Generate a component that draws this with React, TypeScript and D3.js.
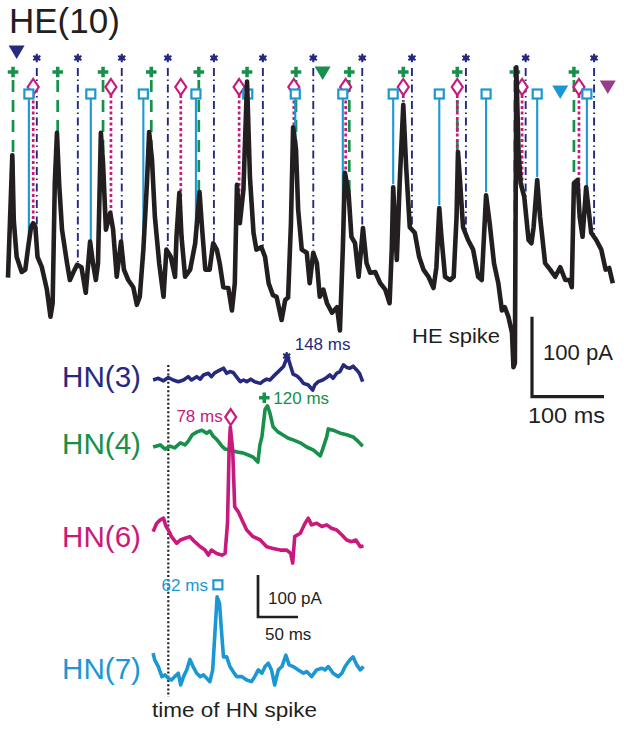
import { useEffect, useRef } from "react";
import * as d3 from "d3";

// HE(10) synaptic current: [time ms, current pA]
const heTrace: [number, number][] = [
  [0, 28], [6, 181], [8, 100], [12, 54], [19, 35], [24, 38], [28, 66], [32, 91], [35, 96], [38, 91],
  [41, 54], [47, 41], [54, 13], [59, -21], [62, -4], [65, 146], [68, 209], [71, 146], [75, 88], [82, 46],
  [86, 25], [91, 35], [96, 44], [102, 41], [108, 9], [114, 73], [118, 46], [122, 25], [125, 46], [129, 209],
  [132, 171], [136, 88], [142, 109], [146, 88], [151, 29], [157, 73], [161, 38], [167, 25], [174, 16], [179, -6],
  [183, 4], [188, 63], [193, 146], [196, 210], [200, 175], [204, 104], [210, 46], [216, 4], [220, 63], [226, 54],
  [232, 29], [234, 79], [238, 134], [241, 79], [246, 29], [253, 38], [260, 71], [266, 135], [269, 96], [274, 38],
  [280, 38], [285, 71], [290, 63], [294, 46], [299, 16], [306, 15], [311, -13], [315, 21], [318, 144], [322, 96],
  [327, 138], [332, 273], [336, 154], [341, 84], [345, 63], [352, 66], [357, 54], [362, 21], [368, 6], [373, 4],
  [380, -25], [385, 0], [389, 3], [393, 96], [396, 216], [400, 188], [403, 113], [408, 63], [415, 59], [419, 21],
  [424, 59], [429, 46], [433, 4], [438, 13], [443, -4], [450, -16], [457, -9], [461, -38], [465, 63], [468, 159],
  [473, 134], [477, 79], [482, 71], [487, 29], [493, 90], [498, 46], [503, 34], [510, 35], [517, 21], [524, 13],
  [530, -4], [533, 63], [535, 141], [540, 50], [544, 146], [549, 244], [553, 166], [558, 91], [565, 84], [571, 54],
  [577, 38], [584, 29], [591, 15], [595, 41], [599, 115], [602, 79], [607, 29], [614, 25], [619, 29], [623, 104],
  [625, 185], [628, 146], [632, 91], [639, 75], [646, 63], [653, 29], [658, 25], [664, 131], [669, 96], [675, 46],
  [681, 21], [686, -13], [690, -9], [695, -21], [700, -41], [702, -84], [704, -79], [706, 291], [709, 188], [712, 146],
  [717, 129], [723, 75], [727, 71], [730, 91], [735, 150], [739, 104], [746, 46], [753, 38], [760, 29], [767, 41],
  [774, 25], [780, 25], [783, 16], [786, 146], [791, 150], [794, 104], [798, 79], [803, 141], [806, 116], [810, 84],
  [817, 75], [824, 63], [830, 38], [835, 40], [840, 21],
];

// HN spike times (ms) marked above the HE trace
const hn3Events = [40, 97, 158, 222, 286, 354, 424, 492, 561, 636, 719, 814];
const hn4Events = [7, 69, 132, 199, 265, 332, 400, 474, 549, 624, 704, 786];
const hn6Events = [35, 143, 240, 321, 397, 469, 549, 624, 714, 793];
const hn7Events = [29, 115, 188, 261, 333, 399, 465, 535, 599, 664, 735, 804];

const triangleTimes = [12, 437, 767, 833];
const triangleColors = ["#262a7f", "#16904a", "#1b97d3", "#9b3d8c"];

// spike-triggered averages, t = 0 at the HN spike: [time ms, current pA]
const hn3Avg: [number, number][] = [
  [-19, 0], [-12.5, 4], [-6, -2], [0, 6], [6, 0], [12.5, -4], [19, 0], [25, 8], [29, 0], [35.5, 8],
  [40, 2], [44, 12], [50, 16], [54, 8], [58, 17], [65, 24], [69, 28], [73, 16], [77, 20], [81, 18],
  [85.5, 7], [90, -4], [94, 0], [98, -4], [103, 2], [108, -4], [115, -8], [119, -2], [123, 2], [127, 0],
  [131, 8], [137.5, 20], [144, 32], [149, 57], [153, 32], [156, 14], [160.5, 10], [165, 2], [169, -8], [175, -12],
  [180.5, -24], [183, -12], [187.5, -4], [193, 0], [198, 6], [202, 12], [206, 4], [210.5, 16], [214.5, 20], [219, 36],
  [223, 30], [227, 28], [231, 33], [235.5, 24], [239, 16], [243, -4],
];
const hn4Avg: [number, number][] = [
  [-19, 0], [-10, 5], [-4, -5], [2, 2], [8, -2], [15, 10], [21, 5], [25, 14], [30, 29], [36, 36],
  [42, 40], [48, 33], [52, 38], [56, 26], [61, 17], [67, 2], [71, -5], [77, -7], [86, -12], [93, -14],
  [100, -19], [106, -24], [112, -36], [114.5, 5], [117, 24], [121, 90], [124, 98], [127, 81], [131, 48], [137, 36],
  [143, 29], [150, 21], [156, 17], [165, 10], [173, 0], [181, -7], [190, -21], [193, -5], [198, 24], [200, 43],
  [206, 40], [215, 33], [223, 29], [231, 24], [237, 14], [243, 2],
];
const hn6Avg: [number, number][] = [
  [-19, 20], [-14.5, 40], [-10, 48], [-6, 52], [-3, 33], [0, 24], [4, 8], [10.5, -8], [15, 0], [21, 4],
  [27, 8], [33, -4], [40, -16], [46, -24], [50, -36], [54, -24], [60.5, -32], [67, -36], [71, -32], [74, 40],
  [76, 214], [77.5, 269], [80.5, 214], [83, 79], [87.5, 67], [92, 48], [98, 24], [106, 8], [115, 0], [123, -16],
  [131, -20], [140, -24], [148, -24], [153, -32], [155.5, -55], [158, 8], [165, 16], [171, 40], [175, 52], [179, 36],
  [185.5, 40], [192, 32], [198, 36], [204, 28], [210.5, 24], [217, 12], [223, 0], [229, -4], [234.5, 0], [240, -16],
  [244, -14],
];
const hn7Avg: [number, number][] = [
  [-19, 45], [-17, 29], [-12.5, 13], [-8, -11], [-4, -7], [0, -15], [4, -19], [8, -11], [12.5, -3], [15.5, -31],
  [19, -11], [23, 5], [27, 30], [31, 13], [35.5, -3], [40, -11], [44, -7], [48, -15], [52, -23], [55.5, 5],
  [58, 84], [61, 179], [64, 164], [67, 84], [69, 36], [73, 36], [77, 13], [81, 1], [85.5, -11], [92, -11],
  [98, -19], [104, -23], [108, -11], [112.5, 5], [117, -3], [121, 13], [125, 21], [129, 5], [133, -31], [137.5, 5],
  [142, 13], [147, 40], [151, 17], [156, 13], [162.5, 5], [169, -3], [173, 1], [179, -11], [185.5, 5], [192, 9],
  [196, 5], [200, 13], [206, -3], [212.5, -11], [217, -3], [221, 13], [227, 29], [231, 36], [235.5, 17], [240, 5],
  [244, 13],
];

const hnNames = ["HN(3)", "HN(4)", "HN(6)", "HN(7)"];
const hnLags = [148, 120, 78, 62];

const NAVY = "#262a7f";
const GREEN = "#16904a";
const MAGENTA = "#c8197d";
const CYAN = "#1b97d3";
const INK = "#231f20";
const FONT = "'Liberation Sans', Arial, Helvetica, sans-serif";

function drawMarker(g: any, kind: string, x: number, y: number, color: string) {
  if (kind === "asterisk") {
    g.append("path")
      .attr("transform", `translate(${x},${y})`)
      .attr("d", d3.symbol(d3.symbolAsterisk, 48)())
      .attr("stroke", color)
      .attr("stroke-width", 2)
      .attr("fill", "none");
    g.append("circle").attr("cx", x).attr("cy", y).attr("r", 2.8).attr("fill", color);
  } else if (kind === "plus") {
    g.append("path")
      .attr("transform", `translate(${x},${y})`)
      .attr("d", d3.symbol(d3.symbolCross, 62)())
      .attr("fill", color);
  } else if (kind === "diamond") {
    g.append("path")
      .attr("d", `M${x},${y - 8}L${x + 5.5},${y}L${x},${y + 8}L${x - 5.5},${y}Z`)
      .attr("fill", "#fff")
      .attr("stroke", color)
      .attr("stroke-width", 2.2);
  } else {
    g.append("rect")
      .attr("x", x - 4.5)
      .attr("y", y - 4.5)
      .attr("width", 9)
      .attr("height", 9)
      .attr("fill", "#fff")
      .attr("stroke", color)
      .attr("stroke-width", 2.2);
  }
}

export default function App() {
  const ref = useRef<SVGSVGElement>(null);

  useEffect(() => {
    if (!ref.current) return;
    const svg = d3.select(ref.current);
    svg.selectAll("*").remove();

    // top trace scales: 0.72 px per ms, 0.8 px per pA
    const x = d3.scaleLinear().domain([0, 840]).range([8, 612.8]);
    const y = d3.scaleLinear().domain([-100, 300]).range([380, 60]);

    const bis = d3.bisector((d: [number, number]) => d[0]).left;
    const valueAt = (t: number) => {
      const i = bis(heTrace, t);
      if (i <= 0) return heTrace[0][1];
      if (i >= heTrace.length) return heTrace[heTrace.length - 1][1];
      const [t0, v0] = heTrace[i - 1];
      const [t1, v1] = heTrace[i];
      return v0 + ((v1 - v0) * (t - t0)) / (t1 - t0);
    };

    svg
      .append("text")
      .attr("x", 9)
      .attr("y", 33)
      .attr("font-family", FONT)
      .attr("font-size", 35)
      .attr("fill", INK)
      .text("HE(10)");

    const rows = [
      { times: hn3Events, color: NAVY, dash: "8,3.5,1.5,3.5", width: 1.9, top: 68, my: 58, kind: "asterisk" },
      { times: hn4Events, color: GREEN, dash: "12,8", width: 2.7, top: 80, my: 72, kind: "plus" },
      { times: hn6Events, color: MAGENTA, dash: "3,2.5", width: 2.7, top: 95, my: 87, kind: "diamond" },
      { times: hn7Events, color: CYAN, dash: null, width: 2.1, top: 99, my: 94, kind: "square" },
    ];

    const lines = svg.append("g");
    rows.forEach((r) => {
      lines
        .selectAll(null)
        .data(r.times)
        .join("line")
        .attr("x1", (d) => x(d))
        .attr("x2", (d) => x(d))
        .attr("y1", r.top)
        .attr("y2", (d) => Math.max(r.top, y(valueAt(d)) - 3))
        .attr("stroke", r.color)
        .attr("stroke-width", r.width)
        .attr("stroke-dasharray", r.dash);
    });

    const marks = svg.append("g");
    rows.forEach((r) => {
      r.times.forEach((t) => drawMarker(marks, r.kind, x(t), r.my, r.color));
    });

    const triY = [52, 73, 92, 87];
    triangleTimes.forEach((t, i) => {
      const cx = x(t);
      const cy = triY[i];
      marks
        .append("path")
        .attr("d", `M${cx - 8},${cy - 6.5}L${cx + 8},${cy - 6.5}L${cx},${cy + 7}Z`)
        .attr("fill", triangleColors[i]);
    });

    const line = d3
      .line<[number, number]>()
      .x((d) => x(d[0]))
      .y((d) => y(d[1]));

    svg
      .append("path")
      .datum(heTrace)
      .attr("d", line)
      .attr("fill", "none")
      .attr("stroke", INK)
      .attr("stroke-width", 4.6)
      .attr("stroke-linejoin", "round");

    svg
      .append("text")
      .attr("x", 412)
      .attr("y", 343)
      .attr("font-family", FONT)
      .attr("font-size", 21)
      .attr("textLength", 88)
      .attr("lengthAdjust", "spacingAndGlyphs")
      .attr("fill", INK)
      .text("HE spike");

    // big scale bar: 100 pA / 100 ms
    const sbX = 532;
    const sbY = 396.7;
    svg
      .append("path")
      .attr("d", `M${sbX},${sbY - (y(0) - y(100))}V${sbY}H${sbX + (x(100) - x(0))}`)
      .attr("fill", "none")
      .attr("stroke", INK)
      .attr("stroke-width", 3.2);
    svg
      .append("text")
      .attr("x", 543)
      .attr("y", 360)
      .attr("font-family", FONT)
      .attr("font-size", 21.5)
      .attr("textLength", 70)
      .attr("lengthAdjust", "spacingAndGlyphs")
      .attr("fill", INK)
      .text("100 pA");
    svg
      .append("text")
      .attr("x", 528)
      .attr("y", 423)
      .attr("font-family", FONT)
      .attr("font-size", 22)
      .attr("textLength", 77)
      .attr("lengthAdjust", "spacingAndGlyphs")
      .attr("fill", INK)
      .text("100 ms");

    // spike-triggered averages
    const xh = d3.scaleLinear().domain([0, 100]).range([168.3, 248.3]);
    const bases = [380, 447, 540, 672];
    const avgs = [hn3Avg, hn4Avg, hn6Avg, hn7Avg];
    const colors = [NAVY, GREEN, MAGENTA, CYAN];
    const kinds = ["asterisk", "plus", "diamond", "square"];
    const lift = [0, 8, 10, 12];
    const labelDx = [8, 9, -8, -10];
    const labelDy = [-6, 6, 5, 6];

    svg
      .append("line")
      .attr("x1", xh(0))
      .attr("x2", xh(0))
      .attr("y1", 365)
      .attr("y2", 697)
      .attr("stroke", INK)
      .attr("stroke-width", 2.2)
      .attr("stroke-dasharray", "2,2.2");

    avgs.forEach((data, i) => {
      const yh = d3.scaleLinear().domain([0, 100]).range([bases[i], bases[i] - 42]);
      const ln = d3
        .line<[number, number]>()
        .x((d) => xh(d[0]))
        .y((d) => yh(d[1]));
      svg
        .append("path")
        .datum(data)
        .attr("d", ln)
        .attr("fill", "none")
        .attr("stroke", colors[i])
        .attr("stroke-width", 3.6)
        .attr("stroke-linejoin", "round");

      svg
        .append("text")
        .attr("x", 62)
        .attr("y", bases[i] + 7)
        .attr("font-family", FONT)
        .attr("font-size", 29)
        .attr("textLength", 79)
        .attr("lengthAdjust", "spacingAndGlyphs")
        .attr("fill", colors[i])
        .text(hnNames[i]);

      const peak = d3.max(data, (d) => d[1]) as number;
      const mx = xh(hnLags[i]);
      const my = yh(peak) - lift[i];
      drawMarker(svg, kinds[i], mx, my, colors[i]);
      svg
        .append("text")
        .attr("x", mx + labelDx[i])
        .attr("y", my + labelDy[i])
        .attr("text-anchor", labelDx[i] > 0 ? "start" : "end")
        .attr("font-family", FONT)
        .attr("font-size", 17)
        .attr("fill", colors[i])
        .text(`${hnLags[i]} ms`);
    });

    // small scale bar: 100 pA / 50 ms
    const yh0 = d3.scaleLinear().domain([0, 100]).range([0, 42]);
    const s2x = 258;
    const s2y = 617;
    svg
      .append("path")
      .attr("d", `M${s2x},${s2y - yh0(100)}V${s2y}H${s2x + (xh(50) - xh(0))}`)
      .attr("fill", "none")
      .attr("stroke", INK)
      .attr("stroke-width", 2.7);
    svg
      .append("text")
      .attr("x", 268)
      .attr("y", 604)
      .attr("font-family", FONT)
      .attr("font-size", 17)
      .attr("fill", INK)
      .text("100 pA");
    svg
      .append("text")
      .attr("x", 265)
      .attr("y", 640)
      .attr("font-family", FONT)
      .attr("font-size", 17)
      .attr("fill", INK)
      .text("50 ms");

    svg
      .append("text")
      .attr("x", 152)
      .attr("y", 717)
      .attr("font-family", FONT)
      .attr("font-size", 20)
      .attr("textLength", 165)
      .attr("lengthAdjust", "spacingAndGlyphs")
      .attr("fill", INK)
      .text("time of HN spike");
  }, []);

  return (
    <svg
      ref={ref}
      width={624}
      height={730}
      style={{ position: "absolute", left: 0, top: 0, background: "#fff" }}
    />
  );
}
